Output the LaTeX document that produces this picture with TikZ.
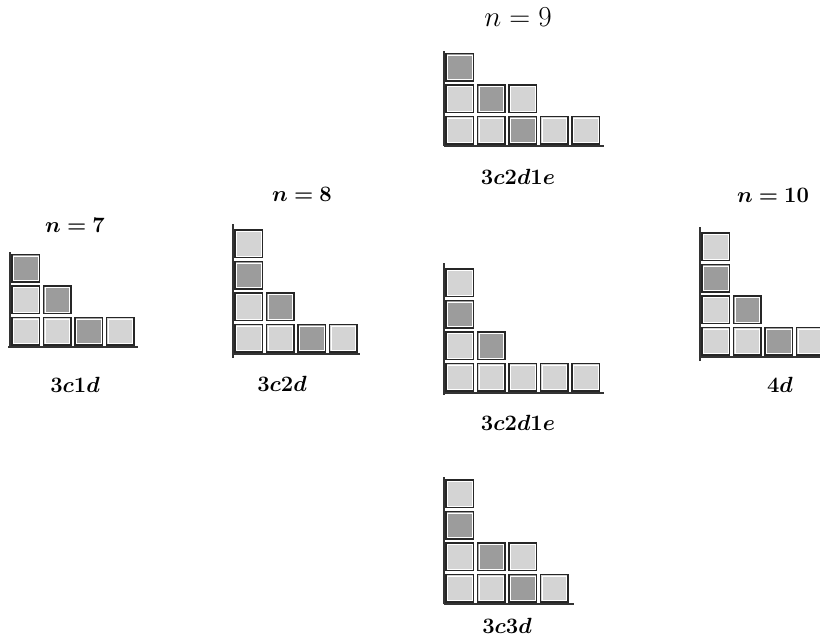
\RequirePackage{fix-cm}
\documentclass[tikz,border=0pt]{standalone}
\usepackage{amsmath,bm}
\usepackage{xcolor}
\usetikzlibrary{positioning}

\definecolor{cellLight}{RGB}{212,212,212}
\definecolor{cellDark}{RGB}{156,156,156}

\begin{document}
\begin{tikzpicture}[x=1pt,y=1pt,
  cell/.style={draw=black!85, line width=1.5pt, minimum size=27.5pt, inner sep=0pt,
    path picture={\draw[white, line width=0.7pt]
      ([shift={(1.6pt,1.6pt)}]path picture bounding box.south west) rectangle
      ([shift={(-1.6pt,-1.6pt)}]path picture bounding box.north east);}},
  sqL/.style={cell, fill=cellLight},
  sqD/.style={cell, fill=cellDark},
  axis/.style={line width=1.4pt, color=black!80},
  lbl/.style={font=\fontsize{22}{26}\selectfont, anchor=base, inner sep=0pt}
]
  \useasboundingbox (0,0) rectangle (820,-639);

  % n = 7
  \begin{scope}[shift={(10,-347)}]
    \foreach \c/\r/\s in {1/1/L,2/1/L,3/1/D,4/1/L,1/2/L,2/2/D,1/3/D}
      \node[sq\s] (a-\c-\r) at ({(\c-0.5)*31.5},{(\r-0.5)*31.5}) {};
    \draw[axis] (-2,0) -- (128,0);
    \draw[axis] (0,0) -- (0,95);
  \end{scope}
  \node[lbl] (na) at (75,-233) {$\bm{n=7}$};
  \node[lbl] (ta) at (75,-392) {$\bm{3c1d}$};

  % n = 8
  \begin{scope}[shift={(233,-354)}]
    \foreach \c/\r/\s in {1/1/L,2/1/L,3/1/D,4/1/L,1/2/L,2/2/D,1/3/D,1/4/L}
      \node[sq\s] (b-\c-\r) at ({(\c-0.5)*31.5},{(\r-0.5)*31.5}) {};
    \draw[axis] (0,0) -- (127,0);
    \draw[axis] (0,-4) -- (0,130);
  \end{scope}
  \node[lbl] (nb) at (302,-202) {$\bm{n=8}$};
  \node[lbl] (tb) at (282,-391) {$\bm{3c2d}$};

  % n = 9 (top)
  \begin{scope}[shift={(444,-146)}]
    \foreach \c/\r/\s in {1/1/L,2/1/L,3/1/D,4/1/L,5/1/L,1/2/L,2/2/D,3/2/L,1/3/D}
      \node[sq\s] (c-\c-\r) at ({(\c-0.5)*31.5},{(\r-0.5)*31.5}) {};
    \draw[axis] (0,0) -- (160,0);
    \draw[axis] (0,0) -- (0,95);
  \end{scope}
  \node[lbl, font=\fontsize{29}{34}\selectfont] (nc) at (518,-27) {$n=9$};
  \node[lbl] (tc) at (518,-185) {$\bm{3c2d1e}$};

  % n = 9 (middle)
  \begin{scope}[shift={(444,-393)}]
    \foreach \c/\r/\s in {1/1/L,2/1/L,3/1/L,4/1/L,5/1/L,1/2/L,2/2/D,1/3/D,1/4/L}
      \node[sq\s] (d-\c-\r) at ({(\c-0.5)*31.5},{(\r-0.5)*31.5}) {};
    \draw[axis] (0,0) -- (160,0);
    \draw[axis] (0,-2) -- (0,130);
  \end{scope}
  \node[lbl] (td) at (518,-430) {$\bm{3c2d1e}$};

  % n = 9 (bottom)
  \begin{scope}[shift={(444,-604)}]
    \foreach \c/\r/\s in {1/1/L,2/1/L,3/1/D,4/1/L,1/2/L,2/2/D,3/2/L,1/3/D,1/4/L}
      \node[sq\s] (e-\c-\r) at ({(\c-0.5)*31.5},{(\r-0.5)*31.5}) {};
    \draw[axis] (0,0) -- (130,0);
    \draw[axis] (0,0) -- (0,127);
  \end{scope}
  \node[lbl] (te) at (507,-633) {$\bm{3c3d}$};

  % n = 10
  \begin{scope}[shift={(700,-357)}]
    \foreach \c/\r/\s in {1/1/L,2/1/L,3/1/D,4/1/L,1/2/L,2/2/D,1/3/D,1/4/L}
      \node[sq\s] (f-\c-\r) at ({(\c-0.5)*31.5},{(\r-0.5)*31.5}) {};
    \draw[axis] (0,0) -- (130,0);
    \draw[axis] (0,-4) -- (0,130);
  \end{scope}
  \node[lbl] (nf) at (773,-203) {$\bm{n=10}$};
  \node[lbl] (tf) at (780,-392) {$\bm{4d}$};
\end{tikzpicture}
\end{document}
